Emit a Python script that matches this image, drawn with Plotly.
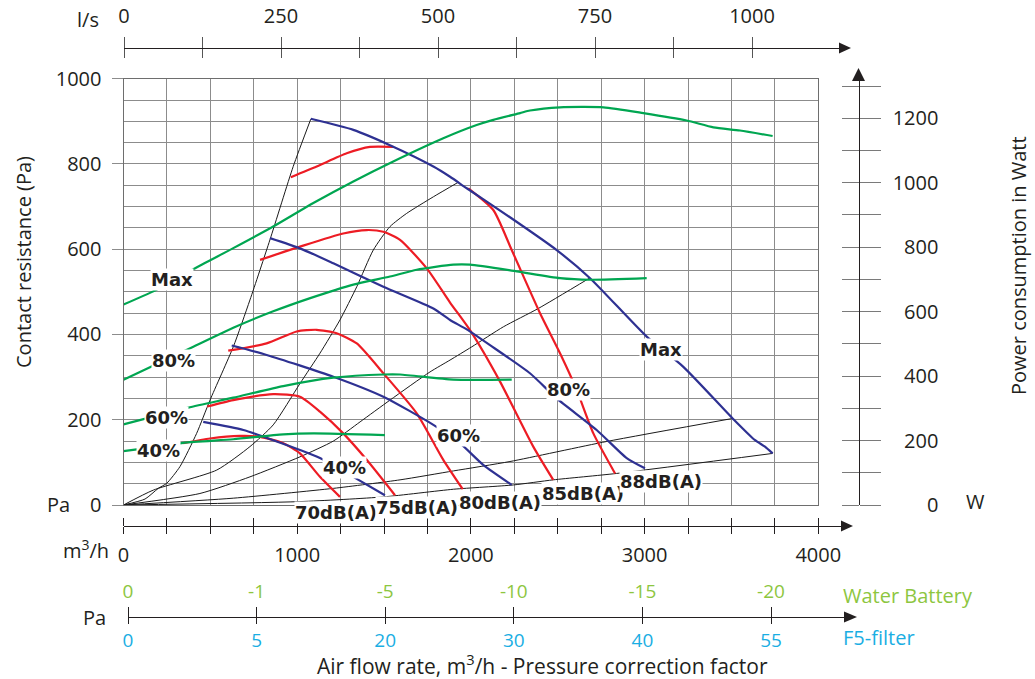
import plotly.graph_objects as go

W, H = 1035, 679


def fx(p):
    return p / W


def fy(p):
    return 1 - p / H


# ---------------- data ----------------
# axis ticks / labels
flow_ticks = list(range(0, 4001, 250))
flow_labels = [str(v) if v % 1000 == 0 else "" for v in flow_ticks]
ls_ticks = list(range(0, 1001, 125))
ls_labels = [str(v) if v % 250 == 0 else "" for v in ls_ticks]
pa_ticks = [0, 200, 400, 600, 800, 1000]
watt_ticks = list(range(0, 1301, 100))
watt_labels = [str(v).rjust(4, "\u2007") if (v % 200 == 0 and v <= 1200) else "" for v in watt_ticks]
corr_pos = [0, 1, 2, 3, 4, 5]
water_labels = ["0", "-1", "-5", "-10", "-15", "-20"]
filter_labels = ["0", "5", "20", "30", "40", "55"]

# system resistance curves (m3/h, Pa)
sys1_x = [0, 124, 200, 249, 325, 421, 498, 632, 728, 843, 977, 1078]
sys1_y = [0, 14, 39, 51, 90, 168, 246, 371, 481, 622, 794, 905]
sys2_x = [0, 172, 537, 728, 862, 1016, 1131, 1246, 1343, 1438, 1534, 1630, 1784, 1927]
sys2_y = [0, 35, 82, 137, 188, 285, 356, 434, 512, 598, 653, 684, 723, 757]
sys3_x = [0, 440, 728, 1016, 1208, 1362, 1534, 1764, 1880, 2005, 2187, 2388, 2682]
sys3_y = [0, 27, 66, 113, 150, 195, 246, 312, 340, 371, 418, 461, 532]
sys4_x = [0, 632, 1208, 1592, 1900, 2225, 2782, 3507]
sys4_y = [0, 16, 39, 59, 80, 102, 149, 203]
sys5_x = [0, 1016, 1496, 1900, 2244, 2474, 2839, 3737]
sys5_y = [0, 8, 19, 37, 47, 59, 74, 121]

# fan curves (m3/h, Pa)
fan_max_x = [1078, 1323, 1534, 1784, 1880, 1976, 2225, 2494, 2686, 3012, 3223, 3507, 3636, 3693, 3737]
fan_max_y = [906, 880, 844, 794, 770, 743, 675, 598, 532, 395, 324, 203, 152, 137, 121]
fan_80_x = [843, 1016, 1208, 1496, 1784, 1880, 1976, 2110, 2340, 2494, 2724, 2897, 3002]
fan_80_y = [626, 602, 567, 512, 461, 434, 412, 375, 309, 250, 176, 110, 86]
fan_60_x = [623, 824, 1208, 1496, 1784, 1937, 2071, 2235]
fan_60_y = [374, 352, 301, 254, 188, 145, 94, 47]
fan_40_x = [459, 690, 862, 1016, 1131, 1323, 1505]
fan_40_y = [195, 176, 152, 129, 110, 66, 23]

# sound level curves (m3/h, Pa)
db70_x = [344, 498, 671, 786, 920, 1016, 1131, 1246]
db70_y = [145, 156, 162, 160, 145, 121, 66, 19]
db75_x = [482, 632, 862, 1016, 1131, 1265, 1400, 1563]
db75_y = [231, 246, 260, 254, 219, 168, 106, 23]
db80_x = [603, 824, 997, 1112, 1227, 1343, 1496, 1688, 1841, 1953]
db80_y = [362, 379, 407, 411, 403, 379, 309, 215, 106, 37]
db85_x = [786, 1016, 1265, 1400, 1496, 1592, 1746, 1880, 1995, 2167, 2359, 2474]
db85_y = [575, 606, 637, 645, 641, 622, 555, 475, 410, 290, 137, 59]
db88a_x = [963, 1112, 1285, 1419, 1553]
db88a_y = [769, 794, 825, 840, 840]
db88b_x = [1985, 2129, 2235, 2398, 2513, 2609, 2705, 2830]
db88b_y = [743, 692, 598, 450, 356, 270, 168, 74]

# power consumption curves (m3/h, W)
pw_max_x = [0, 210, 402, 632, 862, 1093, 1323, 1553, 1841, 2033, 2129, 2283, 2340, 2513, 2763, 2993, 3242, 3396, 3549, 3737]
pw_max_y = [622, 673, 732, 797, 864, 937, 1004, 1066, 1138, 1179, 1195, 1216, 1224, 1234, 1234, 1216, 1193, 1172, 1162, 1145]
pw_80_x = [0, 402, 632, 862, 1075, 1323, 1534, 1688, 1899, 1995, 2264, 2513, 2686, 3012]
pw_80_y = [389, 491, 550, 601, 642, 684, 709, 730, 746, 746, 725, 704, 699, 704]
pw_60_x = [0, 373, 632, 920, 1208, 1496, 1592, 1899, 2235]
pw_60_y = [250, 302, 333, 369, 395, 405, 405, 389, 389]
pw_40_x = [0, 344, 632, 920, 1093, 1505]
pw_40_y = [167, 193, 204, 219, 222, 217]

# ---------------- style ----------------
INK = "#231F20"
GRID = "#8c8c8c"
C_GREEN = "#00A651"
C_RED = "#ED1C24"
C_BLUE = "#2E3192"
C_LIME = "#8DC63F"
C_CYAN = "#1AAEE3"
FONT = "Open Sans"
BOLD = "DejaVu Sans"

fig = go.Figure()


def add_line(x, y, color, width, yaxis="y"):
    fig.add_trace(go.Scatter(
        x=x, y=y, mode="lines", xaxis="x", yaxis=yaxis,
        line=dict(color=color, width=width, shape="spline", smoothing=0.6),
        hoverinfo="skip", showlegend=False, cliponaxis=False))


for sx, sy in [(sys1_x, sys1_y), (sys2_x, sys2_y), (sys3_x, sys3_y), (sys4_x, sys4_y), (sys5_x, sys5_y)]:
    add_line(sx, sy, "#1a1a1a", 1)

for gx, gy in [(pw_max_x, pw_max_y), (pw_80_x, pw_80_y), (pw_60_x, pw_60_y), (pw_40_x, pw_40_y)]:
    add_line(gx, gy, C_GREEN, 2.2, yaxis="y2")

for rx, ry in [(db70_x, db70_y), (db75_x, db75_y), (db80_x, db80_y), (db85_x, db85_y),
               (db88a_x, db88a_y), (db88b_x, db88b_y)]:
    add_line(rx, ry, C_RED, 2.2)

for bx, by in [(fan_max_x, fan_max_y), (fan_80_x, fan_80_y), (fan_60_x, fan_60_y), (fan_40_x, fan_40_y)]:
    add_line(bx, by, C_BLUE, 2.2)

# empty traces so that the decorative axes get drawn
for xa, ya in [("x", "y3"), ("x2", "y4"), ("x3", "y4"), ("x4", "y4"), ("x5", "y4"), ("x6", "y4"), ("x7", "y4")]:
    fig.add_trace(go.Scatter(x=[None], y=[None], xaxis=xa, yaxis=ya, mode="lines",
                             showlegend=False, hoverinfo="skip"))

tickfont = dict(family=FONT, size=20, color=INK)

# pixel geometry
PL, PR, PT, PB = 123.5, 818.3, 78.7, 505.0
px_per_flow = (PR - PL) / 4000.0
flow_axis_end = 842.0
ls_px_per = 0.628
watt_top = (505.7 - PT) / 0.3228
corr_step = 128.6

layout = dict(
    width=W, height=H,
    margin=dict(l=0, r=0, t=0, b=0, pad=0, autoexpand=False),
    paper_bgcolor="white", plot_bgcolor="rgba(0,0,0,0)",
    showlegend=False,
    xaxis=dict(domain=[fx(PL), fx(PR)], range=[0, 4000], anchor="y", automargin=False,
               tickvals=flow_ticks, showticklabels=False, ticks="",
               showgrid=True, gridcolor=GRID, gridwidth=1, zeroline=False,
               showline=True, mirror=True, linecolor="#6e6e6e", linewidth=1),
    yaxis=dict(domain=[fy(PB), fy(PT)], range=[0, 1000], anchor="x", automargin=False,
               tickvals=pa_ticks, ticks="outside", ticklen=11, tickcolor=GRID,
               tickfont=tickfont, ticklabelstandoff=6,
               showgrid=True, gridcolor=GRID, gridwidth=1, zeroline=False,
               minor=dict(dtick=50, tick0=0, showgrid=True, gridcolor=GRID, gridwidth=1, ticks=""),
               showline=True, mirror=True, linecolor="#6e6e6e", linewidth=1),
    # power axis (right)
    yaxis2=dict(overlaying="y", anchor="free", position=fx(858.5), side="right", automargin=False,
                range=[0, watt_top], tickvals=watt_ticks, ticktext=watt_labels,
                ticks="outside", ticklen=21, tickcolor="#7a7a7a",
                tickfont=tickfont, ticklabelstandoff=8,
                showline=True, linecolor=INK, linewidth=1.3,
                showgrid=False, zeroline=False),
    yaxis3=dict(overlaying="y", anchor="free", position=fx(858.5), side="left", automargin=False,
                range=[0, watt_top], tickvals=watt_ticks, ticks="outside", ticklen=17,
                tickcolor="#7a7a7a", showticklabels=False, showline=False,
                showgrid=False, zeroline=False),
    yaxis4=dict(domain=[0, 1], range=[0, 1], anchor="free", position=0, visible=False,
                automargin=False, showgrid=False, zeroline=False),
    # m3/h axis
    xaxis2=dict(domain=[fx(PL), fx(flow_axis_end)], range=[0, (flow_axis_end - PL) / px_per_flow],
                anchor="free", position=fy(526), side="bottom", automargin=False,
                tickvals=flow_ticks, ticktext=flow_labels, ticks="outside", ticklen=7,
                tickcolor=INK, tickfont=tickfont, ticklabelstandoff=4,
                showline=True, linecolor=INK, linewidth=1.3, showgrid=False, zeroline=False),
    xaxis3=dict(overlaying="x2", anchor="free", position=fy(526), side="top", automargin=False,
                range=[0, (flow_axis_end - PL) / px_per_flow],
                tickvals=flow_ticks, ticks="outside", ticklen=8, tickcolor=INK,
                showticklabels=False, showline=False, showgrid=False, zeroline=False),
    # l/s axis (top)
    xaxis4=dict(domain=[fx(124), fx(842)], range=[0, (842 - 124) / ls_px_per],
                anchor="free", position=fy(48), side="top", automargin=False,
                tickvals=ls_ticks, ticktext=ls_labels, ticks="outside", ticklen=11,
                tickcolor="#555", tickfont=tickfont, ticklabelstandoff=6,
                showline=True, linecolor=INK, linewidth=1.3, showgrid=False, zeroline=False),
    xaxis5=dict(overlaying="x4", anchor="free", position=fy(48), side="bottom", automargin=False,
                range=[0, (842 - 124) / ls_px_per],
                tickvals=ls_ticks, ticks="outside", ticklen=9, tickcolor="#555",
                showticklabels=False, showline=False, showgrid=False, zeroline=False),
    # correction factor axis
    xaxis6=dict(domain=[fx(128), fx(844)], range=[0, (844 - 128) / corr_step],
                anchor="free", position=fy(617), side="bottom", automargin=False,
                tickvals=corr_pos, ticktext=filter_labels, ticks="outside", ticklen=6,
                tickcolor=INK, tickfont=dict(family=FONT, size=19, color=C_CYAN),
                ticklabelstandoff=0,
                showline=True, linecolor=INK, linewidth=1.3, showgrid=False, zeroline=False),
    xaxis7=dict(overlaying="x6", anchor="free", position=fy(617), side="top", automargin=False,
                range=[0, (844 - 128) / corr_step],
                tickvals=corr_pos, ticktext=water_labels, ticks="outside", ticklen=10,
                tickcolor=INK, tickfont=dict(family=FONT, size=19, color=C_LIME),
                ticklabelstandoff=1,
                showline=False, showgrid=False, zeroline=False),
)
fig.update_layout(**layout)


def tri_right(xb, xt, yc, hw):
    return (f"M {fx(xb)},{fy(yc - hw)} L {fx(xt)},{fy(yc)} L {fx(xb)},{fy(yc + hw)} Z")


shapes = [
    dict(type="path", xref="paper", yref="paper", path=tri_right(839, 851, 48, 5.5),
         fillcolor=INK, line=dict(width=0)),
    dict(type="path", xref="paper", yref="paper", path=tri_right(841, 853, 526, 5.5),
         fillcolor=INK, line=dict(width=0)),
    dict(type="path", xref="paper", yref="paper", path=tri_right(844, 857, 617, 5.5),
         fillcolor=INK, line=dict(width=0)),
    dict(type="path", xref="paper", yref="paper",
         path=f"M {fx(852)},{fy(81)} L {fx(858.5)},{fy(68)} L {fx(865)},{fy(81)} Z",
         fillcolor=INK, line=dict(width=0)),
]
fig.update_layout(shapes=shapes)

ann = []


def txt(text, x, y, size=20, color=INK, family=FONT, xanchor="center", angle=0):
    ann.append(dict(text=text, x=x, y=y, xref="paper", yref="paper", showarrow=False,
                    font=dict(family=family, size=size, color=color), xanchor=xanchor,
                    yanchor="middle", textangle=angle))


# axis captions
txt("l/s", fx(88), fy(19))
txt("Pa", fx(58), fy(504))
txt("m<sup>3</sup>/h", fx(86), fy(549))
txt("Pa", fx(94), fy(617))
txt("W", fx(975), fy(501))
txt("Water Battery", fx(841), fy(595), color=C_LIME, xanchor="left")
txt("F5-filter", fx(841), fy(637), color=C_CYAN, xanchor="left")
txt("Contact resistance (Pa)", fx(23), fy(262), size=20, angle=-90)
txt("Power consumption in Watt", fx(1019), fy(266), size=20, angle=-90)
txt("Air flow rate, m<sup>3</sup>/h - Pressure correction factor", fx(542), fy(664), size=21)

# curve labels (data coordinates; yshift in pixels for labels sitting below 0 Pa)
lab = dict(family=BOLD, size=18, color=INK)
curve_labels = [
    ("Max", 280, 528, 0), ("80%", 285, 340, 0), ("60%", 245, 206, 0), ("40%", 204, 127, 0),
    ("40%", 1275, 89, 0), ("60%", 1926, 162, 0), ("80%", 2559, 272, 0), ("Max", 3094, 364, 0),
    ("70dB(A)", 1223, 0, -7), ("75dB(A)", 1689, 0, -2), ("80dB(A)", 2167, 5, 0),
    ("85dB(A)", 2645, 26, 0), ("88dB(A)", 3094, 56, 0),
]
for t, xv, yv, ys in curve_labels:
    ann.append(dict(text="<b>" + t + "</b>", x=xv, y=yv, xref="x", yref="y", yshift=ys,
                    showarrow=False, font=lab, bgcolor="white", borderpad=0,
                    xanchor="center", yanchor="middle"))

fig.update_layout(annotations=ann)

fig.write_html("out.html", config={"displayModeBar": False},
               post_script="document.body.style.margin='0';document.body.style.overflow='hidden';")
